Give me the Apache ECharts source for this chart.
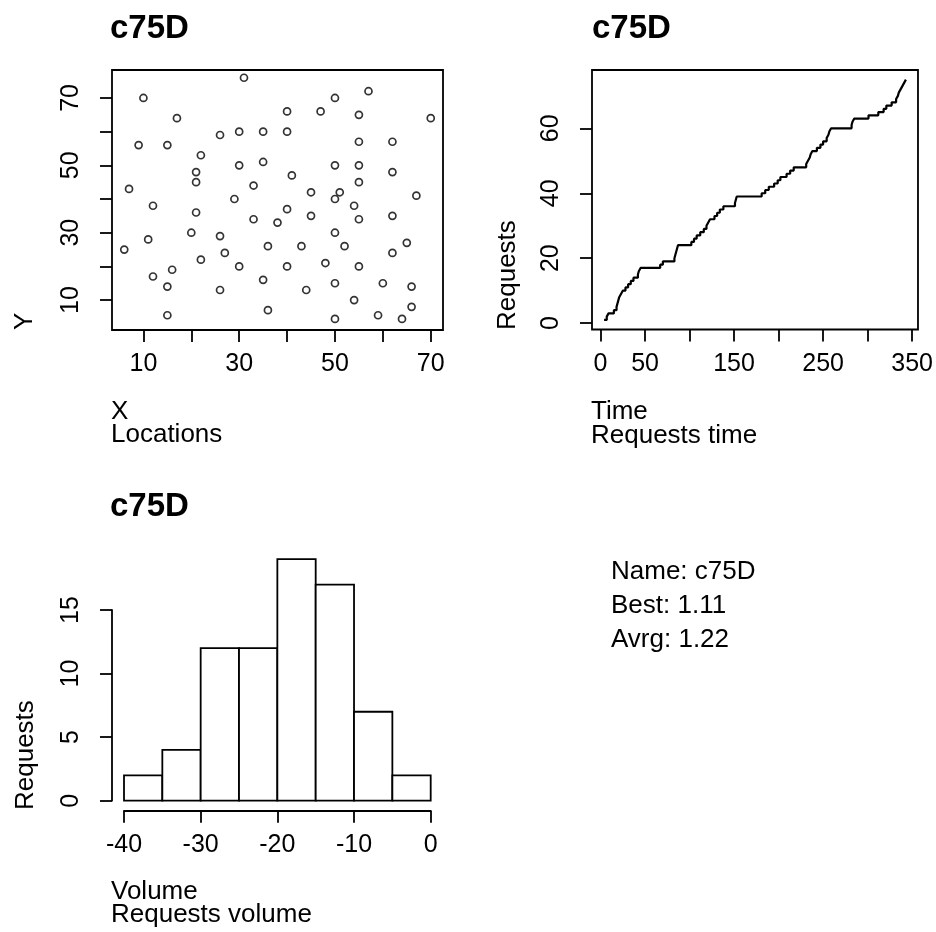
<!DOCTYPE html>
<html>
<head>
<meta charset="utf-8">
<script src="https://cdn.jsdelivr.net/npm/echarts@6/dist/echarts.min.js"></script>
<style>
  html, body { margin: 0; padding: 0; background: #fff; }
  #chart { width: 936px; height: 932px; }
</style>
</head>
<body>
<div id="chart"></div>
<script>
// Request locations (X, Y)
const locX = [31,10,17,26,30,35,9,15,22,30,35,21,21,7,33,29,57,50,40,47,55,70,40,55,62,50,55,62,55,41,45,51,50,67,12,21,33,38,20,26,11,6,36,27,22,30,16,12,15,35,26,15,36,40,45,54,55,62,50,43,52,65,62,40,48,55,50,60,66,44,54,66,59,64,50];
const locY = [76,70,64,59,60,60,56,56,53,50,51,48,45,43,44,40,72,70,66,66,65,64,60,57,57,50,50,48,45,47,42,42,40,41,38,36,34,33,30,29,28,25,26,24,22,20,19,17,14,16,13,5.5,7,37,35,38,34,35,30,26,26,27,24,20,21,20,15,15,14,13,10,8,5.5,4.4,4.4];

// Arrival time of each request (cumulative count = position + 1)
const reqTimes = [4,7,9,15,18,19,20,21,23,25,28,31,34,37,42,43,45,67,70,83,84,85,86,87,102,105,108,112,116,119,121,123,128,131,134,138,151,152,153,181,185,189,195,199,202,209,213,217,231,233,235,236,238,243,247,250,254,256,257,259,282,283,285,301,312,318,321,327,332,334,335,337,339,341,343];

// Volume histogram
const volBreaks = [-40,-35,-30,-25,-20,-15,-10,-5,0];
const volCounts = [2,4,12,12,19,17,7,2];

// Tick values
const locTicks = [10,20,30,40,50,60,70];
const locLabels = [10,30,50,70];
const timeTicks = [0,50,100,150,200,250,300,350];
const timeLabels = [0,50,150,250,350];
const reqTicks = [0,20,40,60];

const infoLines = ['Name: c75D', 'Best: 1.11', 'Avrg: 1.22'];

const FONT = '"Liberation Sans", Arial, sans-serif';
const FS = 25;      // tick labels
const FL = 26;      // axis titles and notes
const LW = 1.8;     // frame, axis and bar outline width
const black = '#000';

const scatterData = locX.map((x, i) => [x, locY[i]]);
const stepData = reqTimes.map((t, i) => [t, i + 1]);
const histData = volCounts.map((n, i) => [volBreaks[i], volBreaks[i + 1], n]);

function tickCfg(values) {
  const c = { show: true, inside: false, length: 12,
              lineStyle: { color: black, width: LW } };
  if (values) c.customValues = values;
  return c;
}
function labelCfg(values, rotate, margin) {
  const c = { show: true, color: black, fontSize: FS, fontFamily: FONT, margin: margin };
  if (values) c.customValues = values;
  if (rotate) c.rotate = rotate;
  return c;
}
function lineCfg(show) {
  return { show: show, onZero: false, lineStyle: { color: black, width: LW } };
}

const chart = echarts.init(document.getElementById('chart'), null, { renderer: 'canvas' });

function txt(x, y, text, opts) {
  opts = opts || {};
  return {
    type: 'text', x: x, y: y, rotation: opts.rot || 0,
    style: {
      text: text,
      font: (opts.bold ? 'bold ' : '') + (opts.size || FL) + 'px ' + FONT,
      fill: black, textAlign: 'left', textVerticalAlign: 'middle'
    }
  };
}

const option = {
  animation: false,
  backgroundColor: '#fff',
  grid: [
    { left: 112, top: 70, width: 331, height: 260, show: true, borderColor: black, borderWidth: LW, backgroundColor: 'transparent' },
    { left: 592, top: 70, width: 331, height: 259.5, show: true, borderColor: black, borderWidth: LW, backgroundColor: 'transparent' },
    { left: 124, top: 546.5, width: 306.7, height: 254.2, show: false },
    { left: 124, top: 610, width: 306.7, height: 190.7, show: false }
  ],
  xAxis: [
    { gridIndex: 0, type: 'value', position: 'bottom', min: 3.44, max: 72.56,
      axisLine: lineCfg(false), axisTick: tickCfg(locTicks),
      axisLabel: labelCfg(locLabels, 0, 22), splitLine: { show: false } },
    { gridIndex: 1, type: 'value', position: 'bottom', min: -9.56, max: 356.56,
      axisLine: lineCfg(false), axisTick: tickCfg(timeTicks),
      axisLabel: labelCfg(timeLabels, 0, 22), splitLine: { show: false } },
    { gridIndex: 2, type: 'value', min: -40, max: 0, show: false },
    { gridIndex: 3, type: 'value', position: 'bottom', min: -40, max: 0, interval: 10, offset: 10,
      axisLine: lineCfg(true), axisTick: tickCfg(null),
      axisLabel: labelCfg(null, 0, 22), splitLine: { show: false } }
  ],
  yAxis: [
    { gridIndex: 0, type: 'value', position: 'left', min: 1.12, max: 78.3,
      axisLine: lineCfg(false), axisTick: tickCfg(locTicks),
      axisLabel: labelCfg(locLabels, 90, 28), splitLine: { show: false } },
    { gridIndex: 1, type: 'value', position: 'left', min: -1.96, max: 77.96,
      axisLine: lineCfg(false), axisTick: tickCfg(reqTicks),
      axisLabel: labelCfg(reqTicks, 90, 28), splitLine: { show: false } },
    { gridIndex: 2, type: 'value', min: 0, max: 20, show: false },
    { gridIndex: 3, type: 'value', position: 'left', min: 0, max: 15, interval: 5, offset: 12,
      axisLine: lineCfg(true), axisTick: tickCfg(null),
      axisLabel: labelCfg(null, 90, 28), splitLine: { show: false } }
  ],
  series: [
    { type: 'scatter', xAxisIndex: 0, yAxisIndex: 0, data: scatterData,
      symbol: 'circle', symbolSize: 7,
      itemStyle: { color: 'rgba(0,0,0,0)', borderColor: black, borderWidth: 1.7 } },
    { type: 'line', xAxisIndex: 1, yAxisIndex: 1, data: stepData, step: 'end',
      showSymbol: false, lineStyle: { color: black, width: 2.2 } },
    { type: 'custom', xAxisIndex: 2, yAxisIndex: 2, data: histData,
      encode: { x: [0, 1], y: 2 },
      renderItem: function (params, api) {
        const p1 = api.coord([api.value(0), api.value(2)]);
        const p2 = api.coord([api.value(1), 0]);
        return { type: 'rect',
          shape: { x: p1[0], y: p1[1], width: p2[0] - p1[0], height: p2[1] - p1[1] },
          style: { fill: '#fff', stroke: black, lineWidth: LW } };
      } }
  ],
  graphic: [
    txt(110, 29, 'c75D', { bold: true, size: 33 }),
    txt(592, 29, 'c75D', { bold: true, size: 33 }),
    txt(110, 507, 'c75D', { bold: true, size: 33 }),
    txt(111, 412, 'X'),
    txt(111, 435, 'Locations'),
    txt(591, 412, 'Time'),
    txt(591, 436, 'Requests time'),
    txt(111, 892, 'Volume'),
    txt(111, 915, 'Requests volume'),
    txt(25, 330, 'Y', { rot: Math.PI / 2 }),
    txt(508, 330, 'Requests', { rot: Math.PI / 2 }),
    txt(26, 810, 'Requests', { rot: Math.PI / 2 }),
    txt(611, 572, infoLines[0]),
    txt(611, 606, infoLines[1]),
    txt(611, 640, infoLines[2])
  ]
};

chart.setOption(option);
</script>
</body>
</html>
